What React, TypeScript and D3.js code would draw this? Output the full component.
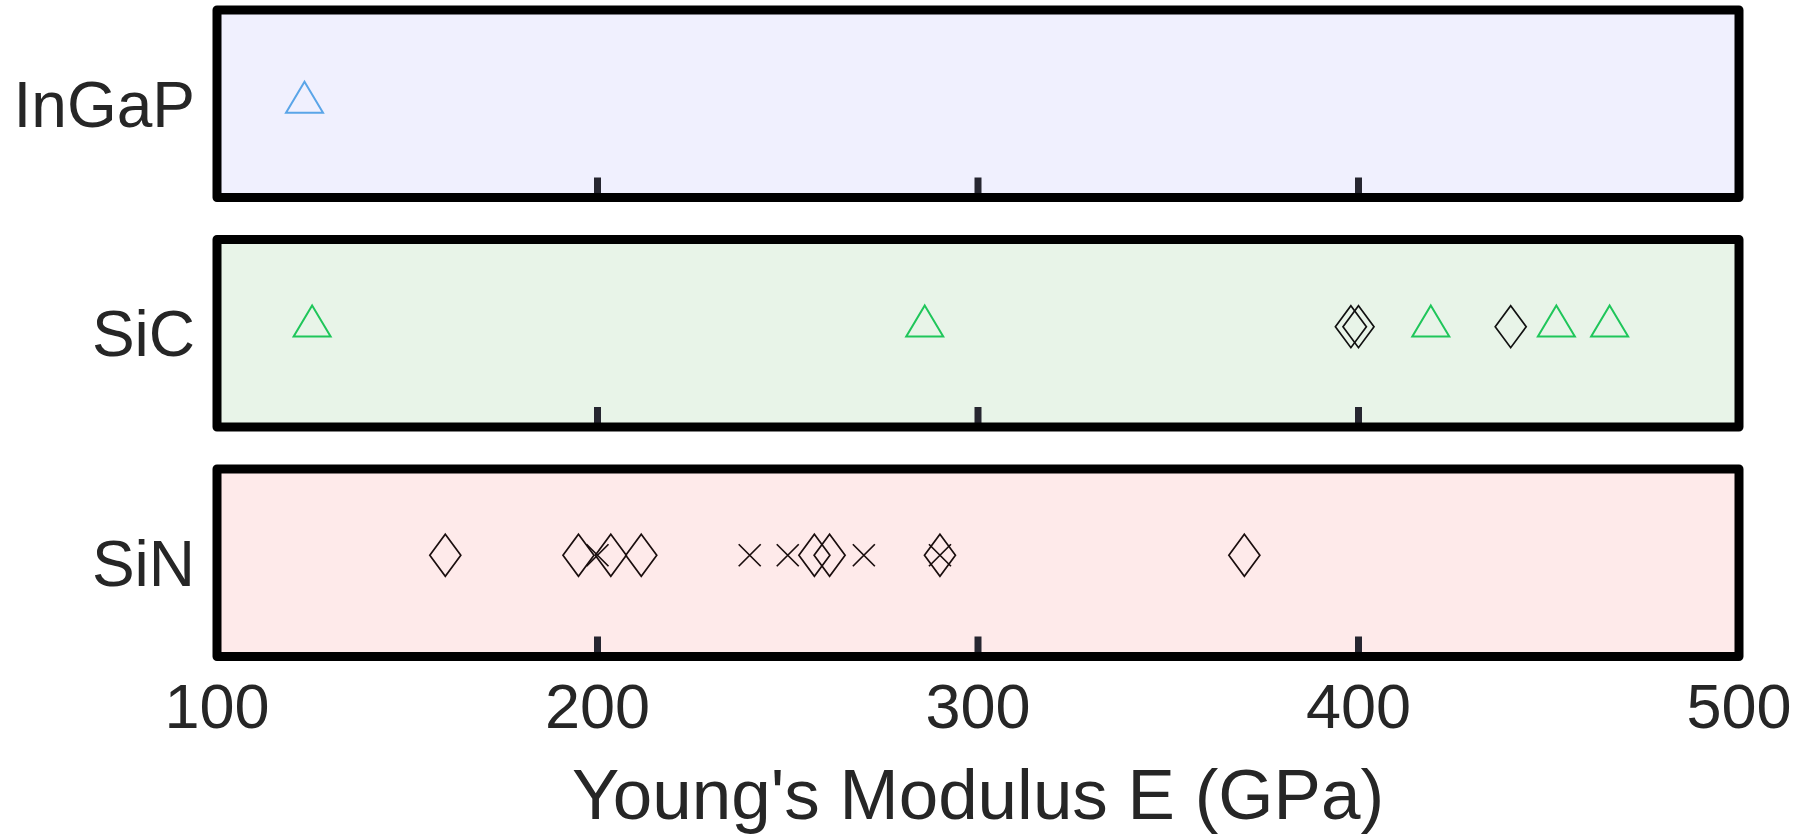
import React from "react";
import * as d3 from "d3";

// Materials shown as stacked strip panels
const categories = ["InGaP", "SiC", "SiN"];
const panelFills = ["#f0f0fe", "#e8f4e8", "#feeaea"];

// Young's modulus values (GPa) per material and marker type
const ingapTriangles = [123];
const sicTriangles = [125, 286, 419, 452, 466];
const sicDiamonds = [398, 400, 440];
const sinDiamonds = [160, 195, 203.5, 211.5, 257, 261, 290, 370];
const sinCrosses = [200, 240, 250, 270, 290];

const xTicks = [100, 200, 300, 400, 500];
const xLabel = "Young's Modulus E (GPa)";

type Shape = "triangle" | "diamond" | "cross";
interface Series {
  category: string;
  shape: Shape;
  color: string;
  lane: number; // vertical position inside the strip, in [-1, 1]
  values: number[];
}

const series: Series[] = [
  { category: "InGaP", shape: "triangle", color: "#5aa5e8", lane: 0.07, values: ingapTriangles },
  { category: "SiC", shape: "triangle", color: "#1fc65a", lane: 0.13, values: sicTriangles },
  { category: "SiC", shape: "diamond", color: "#111111", lane: 0.07, values: sicDiamonds },
  { category: "SiN", shape: "diamond", color: "#1a0e0e", lane: 0.08, values: sinDiamonds },
  { category: "SiN", shape: "cross", color: "#1a0e0e", lane: 0.08, values: sinCrosses },
];

const W = 1810;
const H = 837;
const FONT = "'Liberation Sans', Arial, Helvetica, sans-serif";
const TEXT = "#262626";

function markerPath(shape: Shape): string {
  const p = d3.path();
  if (shape === "triangle") {
    p.moveTo(0, -15.5);
    p.lineTo(18.5, 15.5);
    p.lineTo(-18.5, 15.5);
    p.closePath();
  } else if (shape === "diamond") {
    p.moveTo(0, -21);
    p.lineTo(15.5, 0);
    p.lineTo(0, 21);
    p.lineTo(-15.5, 0);
    p.closePath();
  } else {
    p.moveTo(-11, -11);
    p.lineTo(11, 11);
    p.moveTo(11, -11);
    p.lineTo(-11, 11);
  }
  return p.toString();
}

export default function App() {
  const x = d3.scaleLinear().domain([100, 500]).range([217, 1739]);
  const band = d3
    .scaleBand<string>()
    .domain(categories)
    .range([10, 656.5])
    .paddingInner(0.183)
    .paddingOuter(0);
  const bw = band.bandwidth();

  return (
    <svg
      width={W}
      height={H}
      viewBox={`0 0 ${W} ${H}`}
      style={{ position: "absolute", left: 0, top: 0, background: "#ffffff" }}
      fontFamily={FONT}
    >
      {categories.map((cat, i) => {
        const top = band(cat) as number;
        const bottom = top + bw;
        const y = d3.scaleLinear().domain([-1, 1]).range([bottom, top]);
        return (
          <g key={cat}>
            <rect
              x={x(100)}
              y={top}
              width={x(500) - x(100)}
              height={bw}
              fill={panelFills[i]}
            />
            {xTicks
              .filter((t) => t > 100 && t < 500)
              .map((t) => (
                <line
                  key={t}
                  x1={x(t)}
                  x2={x(t)}
                  y1={bottom}
                  y2={bottom - 20}
                  stroke="#262630"
                  strokeWidth={7}
                />
              ))}
            {series
              .filter((s) => s.category === cat)
              .map((s, si) =>
                s.values.map((v, vi) => (
                  <path
                    key={`${si}-${vi}`}
                    d={markerPath(s.shape)}
                    transform={`translate(${x(v)},${y(s.lane)})`}
                    fill="none"
                    stroke={s.color}
                    strokeWidth={s.shape === "triangle" ? 2 : 1.7}
                  />
                ))
              )}
            <rect
              x={x(100)}
              y={top}
              width={x(500) - x(100)}
              height={bw}
              fill="none"
              stroke="#000000"
              strokeWidth={9}
              strokeLinejoin="round"
            />
            <text
              x={195}
              y={(top + bottom) / 2 + 23}
              textAnchor="end"
              fontSize={64}
              fill={TEXT}
            >
              {cat}
            </text>
          </g>
        );
      })}
      {xTicks.map((t) => (
        <text
          key={t}
          x={x(t)}
          y={728}
          textAnchor="middle"
          fontSize={63}
          fill={TEXT}
        >
          {t}
        </text>
      ))}
      <text
        x={x(300)}
        y={819}
        textAnchor="middle"
        fontSize={71}
        fill={TEXT}
      >
        {xLabel}
      </text>
    </svg>
  );
}
